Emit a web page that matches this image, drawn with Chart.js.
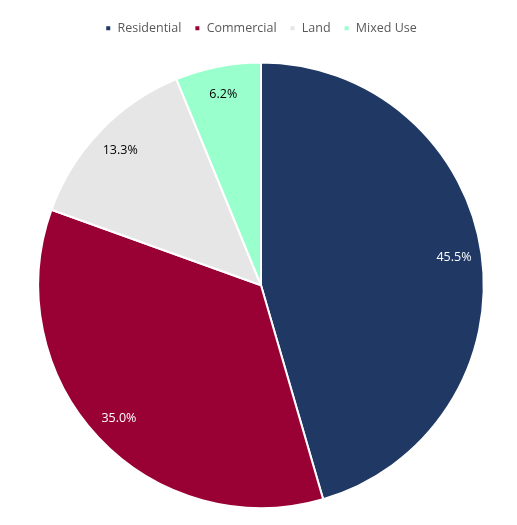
<!DOCTYPE html>
<html>
<head>
<meta charset="utf-8">
<script src="https://cdn.jsdelivr.net/npm/chart.js@4"></script>
<style>
  html, body { margin: 0; padding: 0; background: #fff; }
  #wrap { width: 517px; height: 525px; }
</style>
</head>
<body>
<div id="wrap"><canvas id="pie"></canvas></div>
<script>
const categories = ['Residential', 'Commercial', 'Land', 'Mixed Use'];
const shares = [45.5, 35.0, 13.3, 6.2];
const colors = ['#203864', '#990033', '#e6e6e6', '#99ffcc'];
const labelColors = ['#ffffff', '#ffffff', '#000000', '#000000'];

// draw the percent labels inside each slice
const sliceLabels = {
    id: 'sliceLabels',
    afterDatasetsDraw(chart) {
        const ctx = chart.ctx;
        const meta = chart.getDatasetMeta(0);
        ctx.save();
        ctx.font = '12.5px "Open Sans", sans-serif';
        ctx.textAlign = 'center';
        ctx.textBaseline = 'middle';
        meta.data.forEach((arc, i) => {
            const p = arc.getProps(['x', 'y', 'startAngle', 'endAngle', 'outerRadius']);
            const mid = (p.startAngle + p.endAngle) / 2;
            const r = p.outerRadius * 0.875;
            ctx.fillStyle = labelColors[i];
            ctx.fillText(shares[i].toFixed(1) + '%', p.x + Math.cos(mid) * r, p.y + Math.sin(mid) * r);
        });
        ctx.restore();
    }
};

// extra room under the legend
const legendGap = {
    id: 'legendGap',
    beforeInit(chart) {
        const fit = chart.legend.fit;
        chart.legend.fit = function () {
            fit.bind(chart.legend)();
            this.height += 17;
        };
    }
};

new Chart(document.getElementById('pie'), {
    type: 'pie',
    data: {
        labels: categories,
        datasets: [{
            data: shares,
            backgroundColor: colors,
            borderColor: '#ffffff',
            borderWidth: 2
        }]
    },
    options: {
        responsive: true,
        maintainAspectRatio: false,
        animation: false,
        layout: { padding: { top: 9, bottom: 16, left: 5 } },
        plugins: {
            legend: {
                position: 'top',
                labels: {
                    boxWidth: 6,
                    boxHeight: 6,
                    padding: 13,
                    color: '#595959',
                    font: { family: '"Open Sans", sans-serif', size: 12.5 }
                }
            },
            tooltip: { enabled: false }
        }
    },
    plugins: [sliceLabels, legendGap]
});
</script>
</body>
</html>
